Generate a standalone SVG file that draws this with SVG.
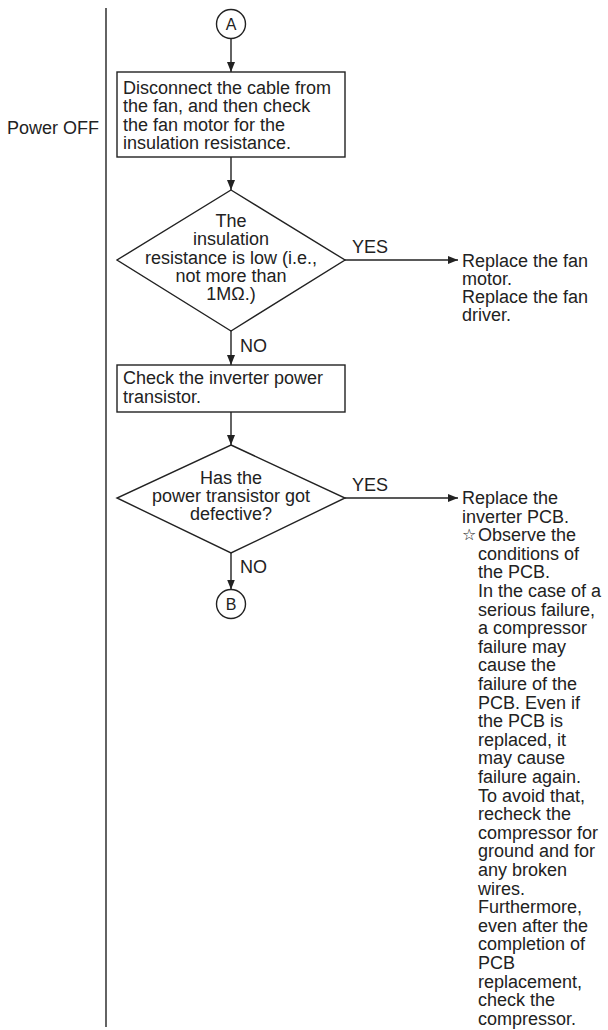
<svg xmlns="http://www.w3.org/2000/svg" width="608" height="1030" viewBox="0 0 608 1030">
<defs>
<marker id="ah" viewBox="0 0 10 8" refX="10" refY="4" markerWidth="10" markerHeight="8" markerUnits="userSpaceOnUse" orient="auto">
<path d="M0,0 L10,4 L0,8 Z" fill="#222"/>
</marker>
</defs>
<style>
text{font-family:"Liberation Sans",Arial,Helvetica,sans-serif;font-size:18px;fill:#222}
.c{text-anchor:middle}
.shape{fill:#fff;stroke:#222;stroke-width:1.4}
.con line{stroke:#222;stroke-width:1.4;marker-end:url(#ah)}
.lane{stroke:#222;stroke-width:1.4}
</style>
<rect width="608" height="1030" fill="#fff"/>
<line class="lane" x1="106" y1="8" x2="106" y2="1027"/>
<text x="99" y="134" text-anchor="end">Power OFF</text>

<g id="connectors" class="con">
<line x1="231" y1="38.5" x2="231" y2="72"/>
<line x1="231" y1="157" x2="231" y2="190"/>
<line x1="231" y1="331" x2="231" y2="365"/>
<line x1="231" y1="412" x2="231" y2="445"/>
<line x1="231" y1="553" x2="231" y2="589.5"/>
<line x1="345" y1="260" x2="458" y2="260"/>
<line x1="345" y1="498" x2="458" y2="498"/>
</g>
<g id="labels">
<text x="352" y="253">YES</text>
<text x="240" y="352">NO</text>
<text x="352" y="491">YES</text>
<text x="240" y="573">NO</text>
</g>

<g id="connA">
<circle class="shape" cx="231" cy="24" r="14.5"/>
<text class="c" x="231" y="30" style="font-size:16px">A</text>
</g>

<g id="box1">
<rect class="shape" x="117" y="72" width="228" height="85"/>
<text x="123" y="94">Disconnect the cable from</text>
<text x="123" y="112.3">the fan, and then check</text>
<text x="123" y="130.6">the fan motor for the</text>
<text x="123" y="149">insulation resistance.</text>
</g>

<g id="dec1">
<polygon class="shape" points="231,190 345,260 231,331 117,260"/>
<text class="c" x="231" y="227">The</text>
<text class="c" x="231" y="245.3">insulation</text>
<text class="c" x="231" y="263.6">resistance is low (i.e.,</text>
<text class="c" x="231" y="282">not more than</text>
<text class="c" x="231" y="300.3">1MΩ.)</text>
</g>

<g id="res1">
<text x="462" y="267">Replace the fan</text>
<text x="462" y="285">motor.</text>
<text x="462" y="303">Replace the fan</text>
<text x="462" y="321">driver.</text>
</g>

<g id="box2">
<rect class="shape" x="117" y="365" width="228" height="47"/>
<text x="123" y="384">Check the inverter power</text>
<text x="123" y="402.5">transistor.</text>
</g>

<g id="dec2">
<polygon class="shape" points="231,445 345,498 231,553 117,498"/>
<text class="c" x="231" y="483.5">Has the</text>
<text class="c" x="231" y="502">power transistor got</text>
<text class="c" x="231" y="520">defective?</text>
</g>

<g id="connB">
<circle class="shape" cx="231" cy="604" r="14.5"/>
<text class="c" x="231" y="610" style="font-size:16px">B</text>
</g>

<g id="res2">
<text x="462" y="504">Replace the</text>
<text x="462" y="522.6">inverter PCB.</text>
<text x="462" y="540" style="font-family:'DejaVu Sans',sans-serif;font-size:16px">☆</text>
<text x="478" y="541.2">Observe the</text>
<text x="478" y="559.8">conditions of</text>
<text x="478" y="578.4">the PCB.</text>
<text x="478" y="597">In the case of a</text>
<text x="478" y="615.6">serious failure,</text>
<text x="478" y="634.2">a compressor</text>
<text x="478" y="652.8">failure may</text>
<text x="478" y="671.4">cause the</text>
<text x="478" y="690">failure of the</text>
<text x="478" y="708.6">PCB. Even if</text>
<text x="478" y="727.2">the PCB is</text>
<text x="478" y="745.8">replaced, it</text>
<text x="478" y="764.4">may cause</text>
<text x="478" y="783">failure again.</text>
<text x="478" y="801.6">To avoid that,</text>
<text x="478" y="820.2">recheck the</text>
<text x="478" y="838.8">compressor for</text>
<text x="478" y="857.4">ground and for</text>
<text x="478" y="876">any broken</text>
<text x="478" y="894.6">wires.</text>
<text x="478" y="913.2">Furthermore,</text>
<text x="478" y="931.8">even after the</text>
<text x="478" y="950.4">completion of</text>
<text x="478" y="969">PCB</text>
<text x="478" y="987.6">replacement,</text>
<text x="478" y="1006.2">check the</text>
<text x="478" y="1024.8">compressor.</text>
</g>
</svg>
